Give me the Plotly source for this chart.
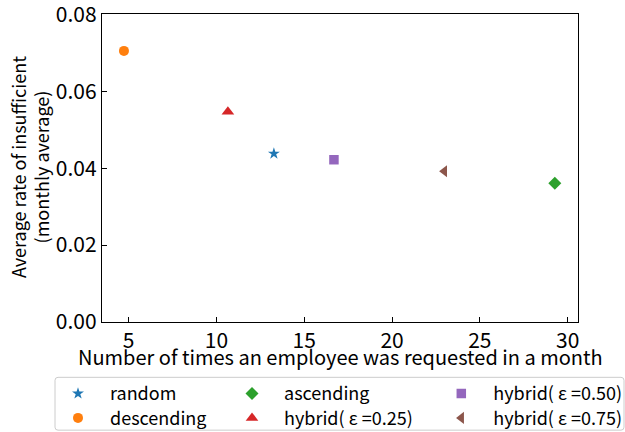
import plotly.graph_objects as go

# ---- data ----
strategies = ["random", "descending", "ascending",
              "hybrid( ε =0.25)", "hybrid( ε =0.50)", "hybrid( ε =0.75)"]
requests_per_month = [13.27, 4.73, 29.27, 10.65, 16.69, 22.98]
insufficient_rate = [0.0438, 0.0705, 0.0361, 0.0547, 0.0422, 0.0392]
x_ticks = [5, 10, 15, 20, 25, 30]
y_ticks = [0.00, 0.02, 0.04, 0.06, 0.08]
x_title = "Number of times an employee was requested in a month"
y_title = "Average rate of insufficient<br>(monthly average)"

# ---- styles ----
colors = ["#1f77b4", "#ff7f0e", "#2ca02c", "#d62728", "#9467bd", "#8c564b"]
symbols = ["star", "circle", "diamond", "triangle-up", "square", "triangle-left"]
sizes = [9, 10, 10, 11, 9.5, 10.5]
FONT = "Noto Sans CJK JP"

W, H = 625, 432
L, R, T, B = 102, 578, 13.5, 322.5
pw, ph = R - L, B - T

def px(xpix):
    return (xpix - L) / pw

def py(ypix):
    return (B - ypix) / ph

# legend layout (matplotlib ncol=3, column-major)
ITEMW = 54
TEXTGAP = ITEMW + 10
legend_text_x = [110, 110, 284, 284, 493.3, 493.3]
legend_row_y = [394.5, 419, 394.5, 419, 394.5, 419]

fig = go.Figure()
legend_layouts = {}
for i, name in enumerate(strategies):
    lname = f"legend{i + 2}"
    fig.add_trace(go.Scatter(
        x=[requests_per_month[i]], y=[insufficient_rate[i]],
        mode="markers", name=name, legend=lname, showlegend=True,
        marker=dict(symbol=symbols[i], color=colors[i], size=sizes[i], line=dict(width=0)),
    ))
    legend_layouts[lname] = dict(
        x=px(legend_text_x[i] - TEXTGAP), y=py(legend_row_y[i]),
        xanchor="left", yanchor="middle", itemwidth=ITEMW,
        bgcolor="rgba(0,0,0,0)", borderwidth=0,
        font=dict(family=FONT, size=18, color="black"),
        orientation="v", visible=True,
    )

# legend frame (rounded)
x0, x1 = px(55), px(624)
yt, yb = py(378), py(431)
rx, ry = 3 / pw, 3 / ph
frame = (f"M {x0+rx},{yt} L {x1-rx},{yt} Q {x1},{yt} {x1},{yt-ry} "
         f"L {x1},{yb+ry} Q {x1},{yb} {x1-rx},{yb} L {x0+rx},{yb} "
         f"Q {x0},{yb} {x0},{yb+ry} L {x0},{yt-ry} Q {x0},{yt} {x0+rx},{yt} Z")

fig.update_layout(
    width=W, height=H,
    margin=dict(l=L, r=W - R, t=T, b=H - B, autoexpand=False),
    paper_bgcolor="white", plot_bgcolor="white",
    showlegend=True,
    font=dict(family=FONT, size=20, color="black"),
    shapes=[dict(type="path", xref="paper", yref="paper", path=frame,
                 line=dict(color="#cccccc", width=1), fillcolor="rgba(255,255,255,0.8)",
                 layer="below")],
    annotations=[
        dict(text=x_title, xref="paper", yref="paper",
             x=px(340), y=py(357.5), xanchor="center", yanchor="middle",
             showarrow=False, font=dict(family=FONT, size=20, color="black")),
        dict(text=y_title, xref="paper", yref="paper", textangle=-90,
             x=px(29), y=py(167), xanchor="center", yanchor="middle",
             showarrow=False, font=dict(family=FONT, size=18, color="black")),
    ],
    **legend_layouts,
)

fig.update_xaxes(
    range=[3.48, 30.59], tickvals=x_ticks, ticktext=[str(v) for v in x_ticks],
    ticks="inside", ticklen=5, tickwidth=1, tickcolor="black",
    showline=True, linecolor="black", linewidth=1.3, mirror=True,
    showgrid=False, zeroline=False, automargin=False,
    ticklabeloverflow="allow",
    tickfont=dict(family=FONT, size=21),
)
fig.update_yaxes(
    range=[0, 0.0801], tickvals=y_ticks, ticktext=[f"{v:.2f}" for v in y_ticks],
    ticks="inside", ticklen=5, tickwidth=1, tickcolor="black",
    showline=True, linecolor="black", linewidth=1.3, mirror=True,
    showgrid=False, zeroline=False, automargin=False,
    ticklabeloverflow="allow",
    tickfont=dict(family=FONT, size=21),
)

fig.write_html("out.html")
